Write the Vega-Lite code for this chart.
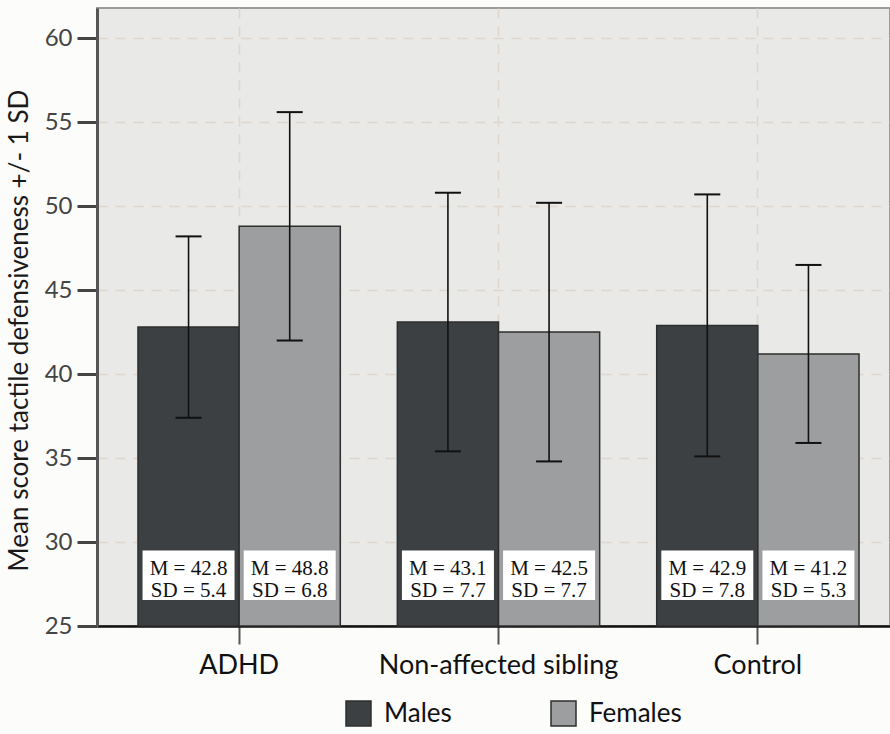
{
  "$schema": "https://vega.github.io/schema/vega-lite/v6.json",
  "autosize": "none",
  "width": 793,
  "height": 618,
  "padding": {"left": 97, "top": 8, "right": 0, "bottom": 108},
  "background": "#fcfcfa",
  "config": {
    "view": {"fill": "#e9e9e7", "stroke": "#9a9a9a", "strokeWidth": 2},
    "font": "Lato"
  },
  "data": {
    "values": [
      {"group": "ADHD", "sex": "Males", "mean": 42.8, "sd": 5.4, "lo": 37.4, "hi": 48.2, "label": "M = 42.8\nSD = 5.4"},
      {"group": "ADHD", "sex": "Females", "mean": 48.8, "sd": 6.8, "lo": 42.0, "hi": 55.6, "label": "M = 48.8\nSD = 6.8"},
      {"group": "Non-affected sibling", "sex": "Males", "mean": 43.1, "sd": 7.7, "lo": 35.4, "hi": 50.8, "label": "M = 43.1\nSD = 7.7"},
      {"group": "Non-affected sibling", "sex": "Females", "mean": 42.5, "sd": 7.7, "lo": 34.8, "hi": 50.2, "label": "M = 42.5\nSD = 7.7"},
      {"group": "Control", "sex": "Males", "mean": 42.9, "sd": 7.8, "lo": 35.1, "hi": 50.7, "label": "M = 42.9\nSD = 7.8"},
      {"group": "Control", "sex": "Females", "mean": 41.2, "sd": 5.3, "lo": 35.9, "hi": 46.5, "label": "M = 41.2\nSD = 5.3"}
    ]
  },
  "encoding": {
    "x": {
      "field": "group", "type": "nominal",
      "sort": ["ADHD", "Non-affected sibling", "Control"],
      "scale": {"range": [0, 803], "paddingInner": 0.22, "paddingOuter": 0.158},
      "axis": {
        "title": null, "labelAngle": 0, "labelFont": "Lato", "labelFontSize": 27, "labelColor": "#111",
        "labelPadding": 8, "labelLimit": 0, "tickSize": 18, "tickColor": "#555", "tickWidth": 2,
        "domainColor": "#111", "domainWidth": 2.5,
        "grid": true, "gridColor": "#e0d6cc", "gridDash": [10, 8], "gridWidth": 1.5
      }
    },
    "xOffset": {"field": "sex", "type": "nominal", "sort": ["Males", "Females"], "scale": {"paddingInner": 0, "paddingOuter": 0}}
  },
  "layer": [
    {
      "mark": {"type": "bar", "stroke": "#2e2e2e", "strokeWidth": 1.5},
      "encoding": {
        "y": {
          "field": "mean", "type": "quantitative",
          "scale": {"domain": [25, 61.8], "nice": false, "zero": false},
          "axis": {
            "title": "Mean score tactile defensiveness +/- 1 SD",
            "titleFont": "Lato", "titleFontSize": 26, "titleFontWeight": "normal", "titleColor": "#1a1a1a",
            "titlePadding": 12, "titleY": 322,
            "values": [25, 30, 35, 40, 45, 50, 55, 60],
            "labelFont": "Lato", "labelFontSize": 24, "labelColor": "#444", "labelPadding": 5,
            "tickSize": 20, "tickWidth": 3, "tickColor": "#444",
            "domainColor": "#555", "domainWidth": 3,
            "grid": true, "gridColor": "#e0d6cc", "gridDash": [10, 8], "gridWidth": 1.5
          }
        },
        "y2": {"datum": 25},
        "color": {
          "field": "sex", "type": "nominal", "sort": ["Males", "Females"],
          "scale": {"domain": ["Males", "Females"], "range": ["#3d4043", "#9d9e9f"]},
          "legend": {
            "title": null, "orient": "none", "direction": "horizontal", "columns": 2,
            "legendX": 248, "legendY": 692, "padding": 0,
            "symbolType": "square", "symbolSize": 625, "symbolStrokeColor": "#2e2e2e", "symbolStrokeWidth": 1.5,
            "symbolOpacity": 1,
            "labelFont": "Lato", "labelFontSize": 26, "labelColor": "#111", "labelOffset": 12,
            "columnPadding": 96
          }
        }
      }
    },
    {
      "mark": {"type": "bar", "fill": "white", "width": 92},
      "encoding": {"y": {"datum": 26.55}, "y2": {"datum": 29.5}}
    },
    {
      "mark": {"type": "text", "font": "Liberation Serif", "fontSize": 21, "lineHeight": 22, "lineBreak": "\n", "baseline": "alphabetic", "align": "center", "color": "#111"},
      "encoding": {"y": {"datum": 28.05}, "text": {"field": "label"}}
    },
    {
      "mark": {"type": "rule", "color": "#111", "strokeWidth": 1.6},
      "encoding": {"y": {"field": "lo", "type": "quantitative"}, "y2": {"field": "hi"}}
    },
    {
      "mark": {"type": "tick", "orient": "horizontal", "size": 26, "thickness": 2, "color": "#111", "opacity": 1},
      "encoding": {"y": {"field": "lo", "type": "quantitative"}}
    },
    {
      "mark": {"type": "tick", "orient": "horizontal", "size": 26, "thickness": 2, "color": "#111", "opacity": 1},
      "encoding": {"y": {"field": "hi", "type": "quantitative"}}
    }
  ]
}
